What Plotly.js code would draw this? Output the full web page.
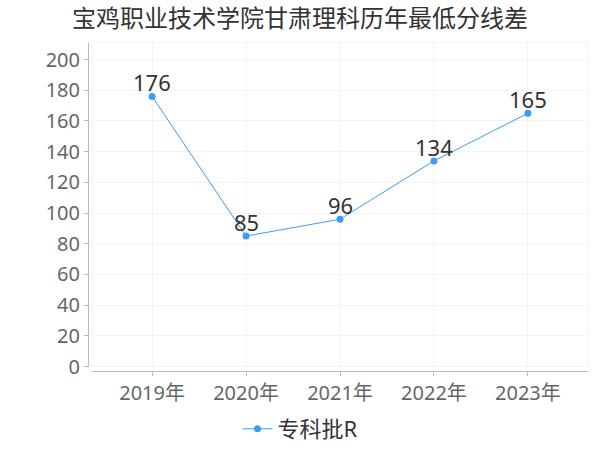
<!DOCTYPE html>
<html>
<head>
<meta charset="utf-8">
<script src="https://cdn.plot.ly/plotly-3.0.1.min.js"></script>
<style>html,body{margin:0;padding:0;background:#fff;}#chart{width:600px;height:450px;}</style>
</head>
<body>
<div id="chart"></div>
<script>
var categories = ["2019年", "2020年", "2021年", "2022年", "2023年"];
var seriesName = "专科批R";
var values = [176, 85, 96, 134, 165];
var yTicks = [0, 20, 40, 60, 80, 100, 120, 140, 160, 180, 200];
var titleText = "宝鸡职业技术学院甘肃理科历年最低分线差";

var font = "'Noto Sans', 'Noto Sans CJK SC', sans-serif";
var blue = "#3a9cf5";

var trace = {
  type: "scatter",
  mode: "lines+markers",
  name: seriesName,
  x: categories,
  y: values,
  line: {color: blue, width: 1},
  marker: {color: blue, size: 7},
  cliponaxis: false,
  hoverinfo: "none"
};

var annotations = categories.map(function (c, i) {
  return {
    x: c, y: values[i], xref: "x", yref: "y",
    text: String(values[i]), showarrow: false,
    xanchor: "center", yanchor: "bottom", yshift: -3,
    font: {size: 22, color: "#333", family: font}
  };
});

var xd = [92/600, 588/600];
var yd = [(450-369)/450, (450-43)/450];

var layout = {
  width: 600, height: 450,
  margin: {l: 0, r: 0, t: 0, b: 0},
  paper_bgcolor: "#fff", plot_bgcolor: "#fff",
  font: {family: font},
  title: {text: titleText, x: 0.5, xanchor: "center", y: 1 - 19/450, yanchor: "middle",
          font: {size: 24, color: "#333", family: font}},
  showlegend: true,
  legend: {orientation: "h", x: 0.5, xanchor: "center", y: 1 - 432/450, yanchor: "middle",
           font: {size: 22, color: "#333", family: font}, itemwidth: 30},
  xaxis: {
    domain: xd,
    type: "category",
    range: [-0.64, 4.64],
    anchor: "free",
    position: (450-373)/450,
    showline: true, linecolor: "#bbb", linewidth: 1,
    ticks: "outside", ticklen: 4, tickcolor: "#bbb",
    showgrid: true, gridcolor: "#f3f3f3",
    tickfont: {size: 20, color: "#666", family: font},
    zeroline: false, fixedrange: true
  },
  yaxis: {
    domain: yd,
    range: [0, 211],
    anchor: "free",
    position: 88/600,
    tickvals: yTicks,
    ticktext: yTicks.map(String),
    showline: true, linecolor: "#bbb", linewidth: 1,
    ticks: "outside", ticklen: 4, tickcolor: "#bbb",
    showgrid: true, gridcolor: "#f3f3f3",
    tickfont: {size: 20, color: "#666", family: font},
    zeroline: false, fixedrange: true
  },
  annotations: annotations,
  shapes: [{
    type: "rect", xref: "paper", yref: "paper",
    x0: xd[0], x1: xd[1], y0: yd[0], y1: yd[1],
    line: {color: "#f3f3f3", width: 1}, layer: "below"
  }]
};

Plotly.newPlot("chart", [trace], layout, {displayModeBar: false, staticPlot: true});
</script>
</body>
</html>
